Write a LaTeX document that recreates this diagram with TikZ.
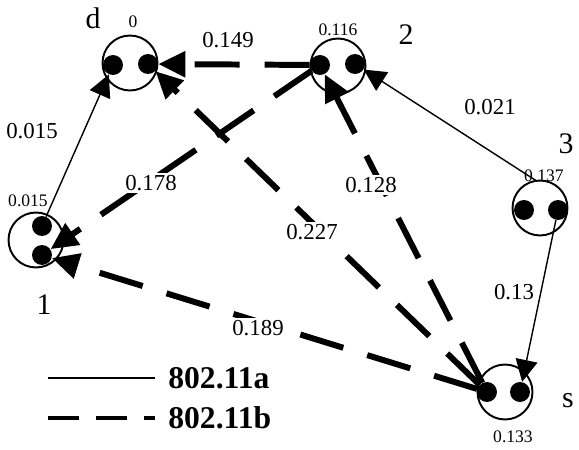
\documentclass[tikz,border=0pt]{standalone}
\usepackage{fontspec}
\setmainfont{Liberation Serif}
\usetikzlibrary{arrows.meta}
\tikzset{
  station/.style={
    draw,
    circle,
    line width=1.1pt,
    minimum size=1.1cm,
    inner sep=0pt
  },
  antenna/.style={
    circle,
    fill=black,
    minimum size=0.4cm,
    inner sep=0pt
  },
  tag/.style={font=\fontsize{17}{17}\selectfont, inner sep=0pt},
  cost/.style={font=\fontsize{10}{10}\selectfont, inner sep=0pt},
  weight/.style={font=\fontsize{13}{13}\selectfont, fill=white, inner sep=1pt},
  legend/.style={font=\fontsize{18}{18}\selectfont\bfseries, anchor=west, inner sep=0pt},
  linka/.style={-{Triangle[length=0.44cm, width=0.44cm]}, line width=0.8pt},
  linkb/.style={-{Triangle[length=0.54cm, width=0.5cm]}, line width=3.4pt, dash pattern=on 0.9cm off 0.5cm}
}
\begin{document}
\begin{tikzpicture}[x=0.02cm, y=-0.02cm]
  \useasboundingbox (0,0) rectangle (579,450);

  \node[station] (std) at (130,63) {};
  \node[antenna] (stda) at (113,65) {};
  \node[antenna] (stdb) at (148,64) {};
  \node[station] (st2) at (338,66) {};
  \node[antenna] (st2a) at (320,65) {};
  \node[antenna] (st2b) at (355,64) {};
  \node[station] (st3) at (540,208) {};
  \node[antenna] (st3a) at (524,210) {};
  \node[antenna] (st3b) at (558,210) {};
  \node[station] (st1) at (36,240) {};
  \node[antenna] (st1a) at (42,226) {};
  \node[antenna] (st1b) at (42,255) {};
  \node[station] (sts) at (505,392) {};
  \node[antenna] (stsa) at (487,392) {};
  \node[antenna] (stsb) at (520,392) {};

  \node[tag] (tagd) at (93,18) {d};
  \node[cost] (costd) at (133,22) {0};
  \node[tag] (tag2) at (406,35) {2};
  \node[cost] (cost2) at (338,30) {0.116};
  \node[tag] (tag3) at (566,144) {3};
  \node[cost] (cost3) at (544,176) {0.137};
  \node[tag] (tag1) at (44,305) {1};
  \node[cost] (cost1) at (28,201) {0.015};
  \node[tag] (tags) at (568,401) {s};
  \node[cost] (costs) at (513,437) {0.133};

  \draw[linka] (st1a) -- (stda);
  \draw[linka] (st3.100) -- (st2b);
  \draw[linka] (st3b) -- (stsb);
  \draw[linkb] (st2a) -- (stdb);
  \draw[linkb] (st2a) -- (st1b);
  \draw[linkb] (stsa) -- (stdb);
  \draw[linkb] (stsa) -- (st2a);
  \draw[linkb] (stsa) -- (st1b);

  \node[weight] (w149) at (228,40) {0.149};
  \node[weight] (w015) at (32,131) {0.015};
  \node[weight] (w178) at (151,183) {0.178};
  \node[weight] (w021) at (490,107) {0.021};
  \node[weight] (w128) at (371,185) {0.128};
  \node[weight] (w227) at (312,232) {0.227};
  \node[weight] (w13) at (514,292) {0.13};
  \node[weight] (w189) at (258,328) {0.189};

  \coordinate (keya1) at (48,378);
  \coordinate (keya2) at (155,378);
  \coordinate (keyb1) at (48,418);
  \coordinate (keyb2) at (155,418);
  \node[legend] (keya) at (168,378) {802.11a};
  \node[legend] (keyb) at (168,418) {802.11b};
  \draw[line width=0.6pt] (keya1) -- (keya2);
  \draw[line width=2.8pt, dash pattern=on 0.62cm off 0.34cm] (keyb1) -- (keyb2);
\end{tikzpicture}
\end{document}
